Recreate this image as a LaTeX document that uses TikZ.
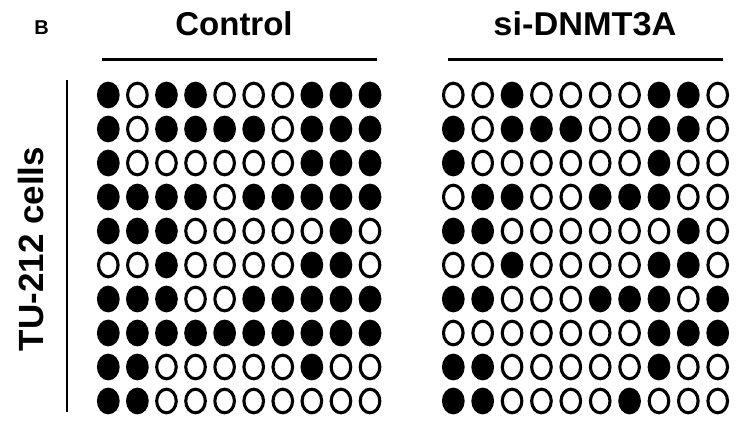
\documentclass[tikz,border=0pt]{standalone}
\usepackage{fontspec}
\setmainfont{Liberation Sans}
\usetikzlibrary{shapes.geometric}
\tikzset{
  dotbase/.style={ellipse, draw=black, line width=3.1pt, inner sep=0pt,
                  minimum width=19.6pt, minimum height=23.6pt},
  dot0/.style={dotbase, fill=white},
  dot1/.style={dotbase, fill=black},
  rule/.style={line width=3pt, black},
  heading/.style={font=\bfseries\fontsize{33}{36}\selectfont, inner sep=0pt, anchor=center},
}
\begin{document}
\begin{tikzpicture}[x=1pt, y=-1pt]
  \useasboundingbox (0,0) rectangle (739,428);

  % panel letter and column headings
  \node[font=\bfseries\fontsize{20}{22}\selectfont, inner sep=0pt] (panel) at (41.5,28) {B};
  \node[heading] (ctrl) at (234,24) {Control};
  \node[heading, xscale=1.04] (kd) at (585,24) {si-DNMT3A};

  % rules under the headings
  \coordinate (ctrlL) at (102,59.3);
  \coordinate (ctrlR) at (377,59.3);
  \coordinate (kdL) at (448,59.3);
  \coordinate (kdR) at (723,59.3);
  \draw[rule] (ctrlL) -- (ctrlR);
  \draw[rule] (kdL) -- (kdR);

  % row label with its vertical rule
  \node[heading, rotate=90, font=\bfseries\fontsize{35}{38}\selectfont] (cells) at (30.5,249) {TU-212 cells};
  \coordinate (vT) at (67,80);
  \coordinate (vB) at (67,412);
  \draw[line width=2.6pt] (vT) -- (vB);

  % methylation pattern, control clones
  \foreach \pattern [count=\j from 0] in {
    {1,0,1,1,0,0,0,1,1,1},
    {1,0,1,1,1,1,0,1,1,1},
    {1,0,0,0,0,0,0,1,1,1},
    {1,1,1,1,0,1,1,1,1,1},
    {1,1,1,0,0,0,0,0,1,0},
    {0,0,1,0,0,0,0,1,1,0},
    {1,1,1,0,0,1,1,1,1,1},
    {1,1,1,1,1,1,1,1,1,1},
    {1,1,0,0,0,0,0,1,0,0},
    {1,1,0,0,0,0,0,0,0,0}} {
    \foreach \v [count=\i from 0] in \pattern {
      \node[dot\v] (c-\j-\i) at ({108.3+29.08*\i},{95+34*\j}) {};
    }
  }

  % methylation pattern, si-DNMT3A clones
  \foreach \pattern [count=\j from 0] in {
    {0,0,1,0,0,0,0,1,1,0},
    {1,0,1,1,1,0,0,1,1,0},
    {1,0,0,0,0,0,0,1,0,0},
    {0,1,1,0,0,1,1,1,0,0},
    {1,1,0,0,0,0,0,0,1,0},
    {0,0,1,0,0,0,0,1,1,0},
    {1,1,0,0,0,1,1,1,0,1},
    {0,0,0,0,0,0,0,1,1,1},
    {1,1,0,0,0,0,0,1,0,0},
    {1,1,0,0,0,0,1,0,0,0}} {
    \foreach \v [count=\i from 0] in \pattern {
      \node[dot\v] (k-\j-\i) at ({453.3+29.38*\i},{95+34*\j}) {};
    }
  }
\end{tikzpicture}
\end{document}
